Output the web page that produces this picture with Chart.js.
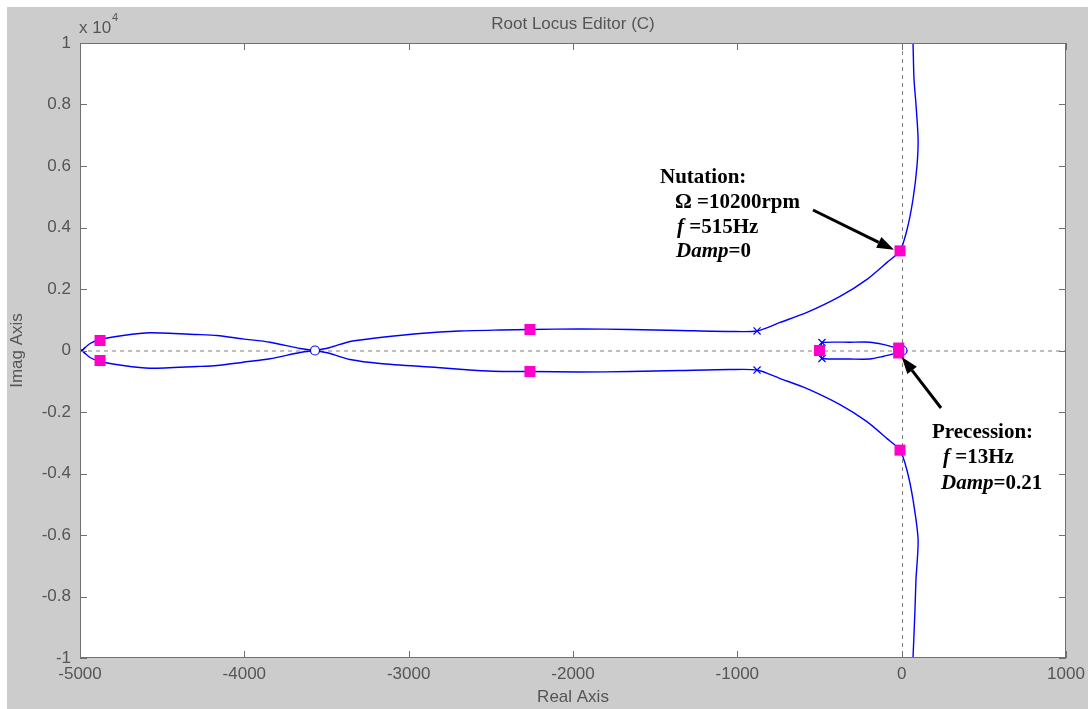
<!DOCTYPE html>
<html>
<head>
<meta charset="utf-8">
<script src="https://cdn.jsdelivr.net/npm/chart.js@4"></script>
<style>
  html, body { margin: 0; padding: 0; background: #cccccc; }
  #rootLocusChart { display: block; }
</style>
</head>
<body>
<canvas id="rootLocusChart" width="1088" height="709"></canvas>
<script>
// axis ticks
xTicks = [-5000, -4000, -3000, -2000, -1000, 0, 1000];
yTicks = [-10000, -8000, -6000, -4000, -2000, 0, 2000, 4000, 6000, 8000, 10000];

// upper branch: left lobe, then from the zero out to the nutation pole and up
upperLobeX = [-4988, -4939, -4878, -4738, -4574, -4288, -4166, -4008, -3844, -3661, -3570];
upperLobeY = [0, 228, 358, 489, 577, 521, 489, 378, 270, 65, 0];
upperArmX = [-3570, -3479, -3357, -3174, -2931, -2688, -2444, -2262, -1957, -1653, -1349, -1045, -880, -740, -576, -375, -211, -89, -10, 33, 69, 93, 100, 87, 75, 69, 63];
upperArmY = [0, 98, 293, 423, 554, 635, 668, 684, 700, 684, 651, 619, 635, 912, 1238, 1759, 2313, 2866, 3240, 3941, 4919, 5993, 6873, 8013, 8827, 10000, 10780];

// lower branch
lowerLobeX = [-4988, -4939, -4878, -4738, -4574, -4288, -4166, -4008, -3844, -3661, -3570];
lowerLobeY = [0, -228, -358, -489, -577, -521, -489, -381, -270, -65, 0];
lowerArmX = [-3570, -3479, -3357, -3174, -2827, -2669, -2487, -2262, -1957, -1653, -1349, -1045, -880, -740, -576, -375, -211, -89, -10, 33, 69, 100, 87, 81, 69, 63];
lowerArmY = [0, -98, -293, -423, -554, -619, -674, -684, -700, -684, -651, -619, -635, -912, -1238, -1759, -2313, -2866, -3240, -3909, -4853, -6156, -7459, -8436, -10000, -10717];

// small precession loop
innerUpperX = [-500, -490, -485, -314, -193, -114, -50, -18, 8, 22, 25];
innerUpperY = [0, 150, 260, 270, 270, 200, 110, 80, 60, 25, 0];
innerLowerX = [-500, -490, -485, -314, -193, -114, -50, -18, 8, 22, 25];
innerLowerY = [0, -150, -261, -277, -277, -195, -110, -80, -60, -25, 0];

// closed-loop poles at the chosen gain (magenta squares)
gainX = [-4878, -4878, -2262, -2262, -10, -10, -500, -18, -18];
gainY = [326, -326, 684, -684, 3240, -3240, 0, 80, -80];

// open-loop poles (x) and zeros (o)
poleX = [-4988, -880, -880, -485, -485];
poleY = [0, 635, -635, 260, -260];
zeroX = [-3570, 5];
zeroY = [0, 0];

function toPoints(xs, ys) {
  return xs.map((x, i) => ({ x: x, y: ys[i] }));
}

function makeBranch(xs, ys) {
  return {
    data: toPoints(xs, ys),
    showLine: true,
    borderColor: "#0000ff",
    borderWidth: 1.4,
    pointRadius: 0,
    tension: 0.25,
    order: 3,
  };
}

const gray = "#555555";
const sansFont = "Liberation Sans, Arial, sans-serif";
const serifFont = "Liberation Serif, Times New Roman, serif";

// background, frame, inward ticks, labels and notes
const decorPlugin = {
  id: "decor",
  beforeDraw(chart) {
    const ctx = chart.ctx;
    const a = chart.chartArea;
    ctx.save();
    ctx.fillStyle = "#cccccc";
    ctx.fillRect(0, 0, chart.width, chart.height);
    ctx.fillStyle = "#ffffff";
    ctx.fillRect(0, 0, chart.width, 7);
    ctx.fillRect(0, 0, 7, chart.height);
    ctx.fillRect(a.left, a.top, a.right - a.left, a.bottom - a.top);
    ctx.restore();
  },
  beforeDatasetsDraw(chart) {
    const ctx = chart.ctx;
    const a = chart.chartArea;
    const x0 = chart.scales.x.getPixelForValue(0);
    const y0 = chart.scales.y.getPixelForValue(0);
    ctx.save();
    ctx.strokeStyle = "#808080";
    ctx.lineWidth = 1;
    ctx.setLineDash([4, 4]);
    ctx.beginPath();
    ctx.moveTo(a.left, y0 + 0.5);
    ctx.lineTo(a.right, y0 + 0.5);
    ctx.moveTo(Math.round(x0) + 0.5, a.top);
    ctx.lineTo(Math.round(x0) + 0.5, a.bottom);
    ctx.stroke();
    ctx.restore();
  },
  afterDraw(chart) {
    const ctx = chart.ctx;
    const a = chart.chartArea;
    const sx = chart.scales.x;
    const sy = chart.scales.y;
    ctx.save();

    // box
    ctx.strokeStyle = "#707070";
    ctx.lineWidth = 1;
    ctx.strokeRect(a.left + 0.5, a.top + 0.5, a.right - a.left - 1, a.bottom - a.top - 1);

    // inward ticks on all sides
    ctx.beginPath();
    xTicks.forEach((v) => {
      const px = Math.round(sx.getPixelForValue(v)) + 0.5;
      ctx.moveTo(px, a.bottom);
      ctx.lineTo(px, a.bottom - 7);
      ctx.moveTo(px, a.top);
      ctx.lineTo(px, a.top + 7);
    });
    yTicks.forEach((v) => {
      const py = Math.round(sy.getPixelForValue(v)) + 0.5;
      ctx.moveTo(a.left, py);
      ctx.lineTo(a.left + 7, py);
      ctx.moveTo(a.right, py);
      ctx.lineTo(a.right - 7, py);
    });
    ctx.stroke();

    // title, axis names, exponent
    ctx.fillStyle = gray;
    ctx.font = "17px " + sansFont;
    ctx.textAlign = "center";
    ctx.textBaseline = "middle";
    ctx.fillText("Root Locus Editor (C)", (a.left + a.right) / 2, 24);
    ctx.fillText("Real Axis", (a.left + a.right) / 2, 697);
    ctx.save();
    ctx.translate(17, (a.top + a.bottom) / 2);
    ctx.rotate(-Math.PI / 2);
    ctx.fillText("Imag Axis", 0, 0);
    ctx.restore();
    ctx.textAlign = "left";
    ctx.fillText("x 10", a.left - 1, 28);
    ctx.font = "11px " + sansFont;
    ctx.fillText("4", a.left + 32, 18);

    // annotations
    function runs(parts, x, y) {
      let cx = x;
      parts.forEach((p) => {
        ctx.font = (p[1] ? "italic " : "") + "bold 21px " + serifFont;
        ctx.fillText(p[0], cx, y);
        cx += ctx.measureText(p[0]).width;
      });
    }
    ctx.fillStyle = "#000000";
    ctx.textBaseline = "alphabetic";
    runs([["Nutation:", false]], 660, 183);
    runs([["\u03A9 =10200rpm", false]], 675, 208);
    runs([["f", true], [" =515Hz", false]], 677, 233);
    runs([["Damp", true], ["=0", false]], 676, 257);
    runs([["Precession:", false]], 932, 438);
    runs([["f", true], [" =13Hz", false]], 943, 463);
    runs([["Damp", true], ["=0.21", false]], 941, 489);

    function arrow(x1, y1, x2, y2) {
      const ang = Math.atan2(y2 - y1, x2 - x1);
      const len = 17;
      const half = 6;
      const bx = x2 - len * Math.cos(ang);
      const by = y2 - len * Math.sin(ang);
      ctx.strokeStyle = "#000000";
      ctx.lineWidth = 3;
      ctx.beginPath();
      ctx.moveTo(x1, y1);
      ctx.lineTo(bx, by);
      ctx.stroke();
      ctx.beginPath();
      ctx.moveTo(x2, y2);
      ctx.lineTo(bx + half * Math.sin(ang), by - half * Math.cos(ang));
      ctx.lineTo(bx - half * Math.sin(ang), by + half * Math.cos(ang));
      ctx.closePath();
      ctx.fill();
    }
    const nx = sx.getPixelForValue(gainX[4]);
    const ny = sy.getPixelForValue(gainY[4]);
    arrow(813, 210, nx - 6, ny - 1);
    const px = sx.getPixelForValue(gainX[8]);
    const py = sy.getPixelForValue(gainY[8]);
    arrow(941, 408, px + 3, py + 4);

    ctx.restore();
  },
};

const locusDatasets = [
  makeBranch(upperLobeX, upperLobeY),
  makeBranch(upperArmX, upperArmY),
  makeBranch(lowerLobeX, lowerLobeY),
  makeBranch(lowerArmX, lowerArmY),
  makeBranch(innerUpperX, innerUpperY),
  makeBranch(innerLowerX, innerLowerY),
  {
    data: toPoints(poleX, poleY),
    showLine: false,
    pointStyle: "crossRot",
    pointRadius: 5,
    borderColor: "#0000ff",
    borderWidth: 1.2,
    order: 2,
  },
  {
    data: toPoints(zeroX, zeroY),
    showLine: false,
    pointStyle: "circle",
    pointRadius: 4.5,
    borderColor: "#0000ff",
    backgroundColor: "#ffffff",
    borderWidth: 1.2,
    order: 2,
  },
  {
    data: toPoints(gainX, gainY),
    showLine: false,
    pointStyle: "rect",
    pointRadius: 7.8,
    borderWidth: 0,
    backgroundColor: "#ff00cc",
    borderColor: "#ff00cc",
    order: 1,
  },
];

const tickFont = { family: sansFont, size: 17 };

rootLocusChart = new Chart(document.getElementById("rootLocusChart"), {
  type: "scatter",
  data: { datasets: locusDatasets },
  options: {
    responsive: false,
    animation: false,
    layout: { padding: { top: 43, right: 22, left: 0, bottom: 0 } },
    plugins: {
      legend: { display: false },
      tooltip: { enabled: false },
    },
    scales: {
      x: {
        type: "linear",
        min: -5000,
        max: 1000,
        afterBuildTicks: (s) => { s.ticks = xTicks.map((v) => ({ value: v })); },
        ticks: {
          callback: (v) => String(v),
          color: gray,
          font: tickFont,
          padding: 6,
          maxRotation: 0,
          autoSkip: false,
        },
        grid: { display: false, drawTicks: false },
        border: { display: false },
        afterFit: (s) => {
          s.height = 51;
          s.paddingLeft = 0;
          s.paddingRight = 0;
        },
      },
      y: {
        type: "linear",
        min: -10000,
        max: 10000,
        afterBuildTicks: (s) => { s.ticks = yTicks.map((v) => ({ value: v })); },
        ticks: {
          callback: (v) => String(Math.round(v / 1000) / 10),
          color: gray,
          font: tickFont,
          padding: 9,
          autoSkip: false,
        },
        grid: { display: false, drawTicks: false },
        border: { display: false },
        afterFit: (s) => {
          s.width = 80;
          s.paddingTop = 0;
          s.paddingBottom = 0;
        },
      },
    },
  },
  plugins: [decorPlugin],
});
</script>
</body>
</html>
